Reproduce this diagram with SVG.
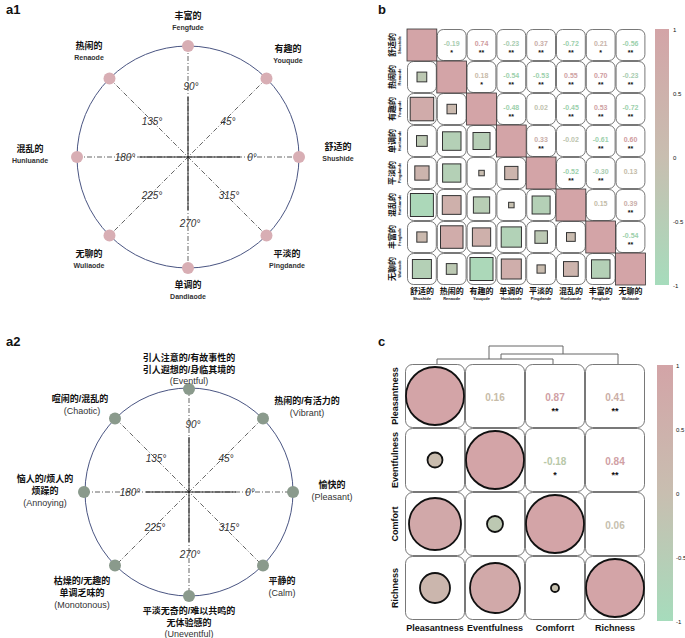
<svg xmlns="http://www.w3.org/2000/svg" width="685" height="638" viewBox="0 0 685 638" fill="#111">
<defs>
<style>
text{font-family:"Liberation Sans","Noto Sans CJK SC",sans-serif}
.pl{font-size:13px;font-weight:bold}
.cn{font-size:9px;font-weight:bold;text-anchor:middle}
.en{font-size:7px;font-weight:bold;text-anchor:middle;fill:#333}
.en2{font-size:9px;text-anchor:middle;fill:#333}
.ang{font-size:10px;font-style:italic;text-anchor:middle;fill:#333}
.ring{fill:none;stroke:#4a5582;stroke-width:1}
.dd{stroke:#222;stroke-width:0.7;stroke-dasharray:5 2 1 2;fill:none}
.sl{stroke:#222;stroke-width:1;fill:none}
.d1{fill:#d8aeb4}
.d2{fill:#8a9a8c}
.cell{fill:#fff;stroke:#555;stroke-width:0.8}
.diag{fill:#d3a4a7;stroke:#333;stroke-width:0.8}
.sq{stroke:#333;stroke-width:1}
.v{font-size:7px;font-weight:bold;text-anchor:middle}
.st{font-size:7px;font-weight:bold;text-anchor:middle}
.cb{font-size:6px}
.ylab{font-size:8px;font-weight:bold;text-anchor:middle}
.ysm{font-size:4px;font-weight:bold;text-anchor:middle}
.cv{font-size:10px;font-weight:bold;text-anchor:middle}
.cs{font-size:9px;font-weight:bold;text-anchor:middle}
.cl{font-size:9px;font-weight:bold;text-anchor:middle}
.ci{stroke:#111;stroke-width:1.8}
.den{stroke:#666;stroke-width:1;fill:none}
</style>
<linearGradient id="cbg" x1="0" y1="0" x2="0" y2="1">
<stop offset="0" stop-color="#d3a4a7"/><stop offset="0.5" stop-color="#c8beb0"/><stop offset="1" stop-color="#a6dcbc"/>
</linearGradient>
</defs>

<text class="pl" x="6" y="14">a1</text>
<text class="pl" x="378" y="14">b</text>
<text class="pl" x="6" y="346">a2</text>
<text class="pl" x="378" y="346">c</text>

<g id="a1">
<circle class="ring" cx="188" cy="157" r="111"/>
<path class="dd" d="M188 46V268M77 157H299M109.5 78.5L266.5 235.5M266.5 78.5L109.5 235.5"/>
<path class="sl" d="M188 97V157M140 157H240M188 157V210"/>
<g id="a1-nodes">
<circle class="d1" cx="188" cy="46" r="6"/>
<circle class="d1" cx="266.5" cy="78.5" r="6"/>
<circle class="d1" cx="299" cy="157" r="6"/>
<circle class="d1" cx="266.5" cy="235.5" r="6"/>
<circle class="d1" cx="188" cy="268" r="6"/>
<circle class="d1" cx="109.5" cy="235.5" r="6"/>
<circle class="d1" cx="77" cy="157" r="6"/>
<circle class="d1" cx="109.5" cy="78.5" r="6"/>
</g>
<text class="ang" x="191" y="90">90°</text>
<text class="ang" x="152" y="125">135°</text>
<text class="ang" x="228" y="125">45°</text>
<text class="ang" x="125" y="161">180°</text>
<text class="ang" x="252" y="161">0°</text>
<text class="ang" x="152" y="199">225°</text>
<text class="ang" x="229" y="199">315°</text>
<text class="ang" x="190" y="227">270°</text>
<text class="cn" x="188" y="19">丰富的</text><text class="en" x="188" y="30">Fengfude</text>
<text class="cn" x="89" y="49">热闹的</text><text class="en" x="89" y="60">Renaode</text>
<text class="cn" x="288" y="52">有趣的</text><text class="en" x="288" y="63">Youqude</text>
<text class="cn" x="30" y="152">混乱的</text><text class="en" x="30" y="163">Hunluande</text>
<text class="cn" x="338" y="150">舒适的</text><text class="en" x="338" y="161">Shushide</text>
<text class="cn" x="89" y="257">无聊的</text><text class="en" x="89" y="268">Wuliaode</text>
<text class="cn" x="287" y="257">平淡的</text><text class="en" x="287" y="268">Pingdande</text>
<text class="cn" x="188" y="288">单调的</text><text class="en" x="188" y="299">Dandiaode</text>
</g>

<g id="a2">
<circle class="ring" cx="189" cy="492" r="104"/>
<path class="dd" d="M189 388V596M85 492H293M115.5 418.5L262.5 565.5M262.5 418.5L115.5 565.5"/>
<path class="sl" d="M189 437V492M146 492H236M189 492V542"/>
<g id="a2-nodes">
<circle class="d2" cx="189" cy="389" r="6"/>
<circle class="d2" cx="263" cy="418.5" r="6"/>
<circle class="d2" cx="293" cy="492" r="6"/>
<circle class="d2" cx="263" cy="565.5" r="6"/>
<circle class="d2" cx="189" cy="596" r="6"/>
<circle class="d2" cx="115" cy="565.5" r="6"/>
<circle class="d2" cx="84" cy="492" r="6"/>
<circle class="d2" cx="115" cy="418.5" r="6"/>
</g>
<text class="ang" x="193" y="428">90°</text>
<text class="ang" x="156" y="462">135°</text>
<text class="ang" x="226" y="462">45°</text>
<text class="ang" x="130" y="496">180°</text>
<text class="ang" x="250" y="496">0°</text>
<text class="ang" x="155" y="531">225°</text>
<text class="ang" x="229" y="531">315°</text>
<text class="ang" x="190" y="558">270°</text>
<text class="cn" x="189" y="361">引人注意的/有故事性的</text>
<text class="cn" x="189" y="373">引人遐想的/身临其境的</text>
<text class="en2" x="189" y="384">(Eventful)</text>
<text class="cn" x="80" y="402">喧闹的/混乱的</text><text class="en2" x="82" y="414">(Chaotic)</text>
<text class="cn" x="307" y="404">热闹的/有活力的</text><text class="en2" x="307" y="416">(Vibrant)</text>
<text class="cn" x="45" y="482">恼人的/烦人的</text><text class="cn" x="45" y="494">烦躁的</text><text class="en2" x="45" y="506">(Annoying)</text>
<text class="cn" x="332" y="488">愉快的</text><text class="en2" x="332" y="500">(Pleasant)</text>
<text class="cn" x="82" y="584">枯燥的/无趣的</text><text class="cn" x="82" y="596">单调乏味的</text><text class="en2" x="82" y="608">(Monotonous)</text>
<text class="cn" x="282" y="584">平静的</text><text class="en2" x="282" y="596">(Calm)</text>
<text class="cn" x="189" y="614">平淡无奇的/难以共鸣的</text>
<text class="cn" x="189" y="626">无体验感的</text>
<text class="en2" x="189" y="637">(Uneventful)</text>
</g>

<g id="b">
<g id="b-cells">
<rect class="cell" x="437.3" y="29.5" width="28.8" height="31" rx="6"/><rect class="cell" x="467.1" y="29.5" width="28.8" height="31" rx="6"/><rect class="cell" x="496.9" y="29.5" width="28.8" height="31" rx="6"/><rect class="cell" x="526.7" y="29.5" width="28.8" height="31" rx="6"/><rect class="cell" x="556.5" y="29.5" width="28.8" height="31" rx="6"/><rect class="cell" x="586.3" y="29.5" width="28.8" height="31" rx="6"/><rect class="cell" x="616.1" y="29.5" width="28.8" height="31" rx="6"/>
<rect class="cell" x="407.5" y="61.5" width="28.8" height="31" rx="6"/><rect class="cell" x="467.1" y="61.5" width="28.8" height="31" rx="6"/><rect class="cell" x="496.9" y="61.5" width="28.8" height="31" rx="6"/><rect class="cell" x="526.7" y="61.5" width="28.8" height="31" rx="6"/><rect class="cell" x="556.5" y="61.5" width="28.8" height="31" rx="6"/><rect class="cell" x="586.3" y="61.5" width="28.8" height="31" rx="6"/><rect class="cell" x="616.1" y="61.5" width="28.8" height="31" rx="6"/>
<rect class="cell" x="407.5" y="93.5" width="28.8" height="31" rx="6"/><rect class="cell" x="437.3" y="93.5" width="28.8" height="31" rx="6"/><rect class="cell" x="496.9" y="93.5" width="28.8" height="31" rx="6"/><rect class="cell" x="526.7" y="93.5" width="28.8" height="31" rx="6"/><rect class="cell" x="556.5" y="93.5" width="28.8" height="31" rx="6"/><rect class="cell" x="586.3" y="93.5" width="28.8" height="31" rx="6"/><rect class="cell" x="616.1" y="93.5" width="28.8" height="31" rx="6"/>
<rect class="cell" x="407.5" y="125.5" width="28.8" height="31" rx="6"/><rect class="cell" x="437.3" y="125.5" width="28.8" height="31" rx="6"/><rect class="cell" x="467.1" y="125.5" width="28.8" height="31" rx="6"/><rect class="cell" x="526.7" y="125.5" width="28.8" height="31" rx="6"/><rect class="cell" x="556.5" y="125.5" width="28.8" height="31" rx="6"/><rect class="cell" x="586.3" y="125.5" width="28.8" height="31" rx="6"/><rect class="cell" x="616.1" y="125.5" width="28.8" height="31" rx="6"/>
<rect class="cell" x="407.5" y="157.5" width="28.8" height="31" rx="6"/><rect class="cell" x="437.3" y="157.5" width="28.8" height="31" rx="6"/><rect class="cell" x="467.1" y="157.5" width="28.8" height="31" rx="6"/><rect class="cell" x="496.9" y="157.5" width="28.8" height="31" rx="6"/><rect class="cell" x="556.5" y="157.5" width="28.8" height="31" rx="6"/><rect class="cell" x="586.3" y="157.5" width="28.8" height="31" rx="6"/><rect class="cell" x="616.1" y="157.5" width="28.8" height="31" rx="6"/>
<rect class="cell" x="407.5" y="189.5" width="28.8" height="31" rx="6"/><rect class="cell" x="437.3" y="189.5" width="28.8" height="31" rx="6"/><rect class="cell" x="467.1" y="189.5" width="28.8" height="31" rx="6"/><rect class="cell" x="496.9" y="189.5" width="28.8" height="31" rx="6"/><rect class="cell" x="526.7" y="189.5" width="28.8" height="31" rx="6"/><rect class="cell" x="586.3" y="189.5" width="28.8" height="31" rx="6"/><rect class="cell" x="616.1" y="189.5" width="28.8" height="31" rx="6"/>
<rect class="cell" x="407.5" y="221.5" width="28.8" height="31" rx="6"/><rect class="cell" x="437.3" y="221.5" width="28.8" height="31" rx="6"/><rect class="cell" x="467.1" y="221.5" width="28.8" height="31" rx="6"/><rect class="cell" x="496.9" y="221.5" width="28.8" height="31" rx="6"/><rect class="cell" x="526.7" y="221.5" width="28.8" height="31" rx="6"/><rect class="cell" x="556.5" y="221.5" width="28.8" height="31" rx="6"/><rect class="cell" x="616.1" y="221.5" width="28.8" height="31" rx="6"/>
<rect class="cell" x="407.5" y="253.5" width="28.8" height="31" rx="6"/><rect class="cell" x="437.3" y="253.5" width="28.8" height="31" rx="6"/><rect class="cell" x="467.1" y="253.5" width="28.8" height="31" rx="6"/><rect class="cell" x="496.9" y="253.5" width="28.8" height="31" rx="6"/><rect class="cell" x="526.7" y="253.5" width="28.8" height="31" rx="6"/><rect class="cell" x="556.5" y="253.5" width="28.8" height="31" rx="6"/><rect class="cell" x="586.3" y="253.5" width="28.8" height="31" rx="6"/>
<rect class="diag" x="407" y="29" width="29.8" height="32"/><rect class="diag" x="436.8" y="61" width="29.8" height="32"/><rect class="diag" x="466.6" y="93" width="29.8" height="32"/><rect class="diag" x="496.4" y="125" width="29.8" height="32"/><rect class="diag" x="526.2" y="157" width="29.8" height="32"/><rect class="diag" x="556" y="189" width="29.8" height="32"/><rect class="diag" x="585.8" y="221" width="29.8" height="32"/><rect class="diag" x="615.6" y="253" width="29.8" height="32"/>
</g>
<g id="b-squares" class="sq">
<rect x="417" y="72.1" width="9.75" height="9.75" fill="#bcc8b2"/>
<rect x="410.2" y="97.3" width="23.5" height="23.5" fill="#d0abaa"/><rect x="447" y="104.3" width="9.5" height="9.5" fill="#cab9ae"/>
<rect x="416.5" y="135.6" width="10.75" height="10.75" fill="#bcc9b3"/><rect x="442.5" y="131.8" width="18.5" height="18.5" fill="#b4d0b6"/><rect x="473" y="132.5" width="17" height="17" fill="#b6ceb6"/>
<rect x="414.8" y="165.9" width="14.25" height="14.25" fill="#ccb4ad"/><rect x="442.6" y="163.9" width="18.25" height="18.25" fill="#b4d0b6"/><rect x="478.8" y="170.3" width="5.5" height="5.5" fill="#c8bdb0"/><rect x="504.7" y="166.4" width="13.25" height="13.25" fill="#ccb5ad"/>
<rect x="410.4" y="193.5" width="23" height="23" fill="#acd8b9"/><rect x="442.3" y="195.6" width="18.75" height="18.75" fill="#ceb0ab"/><rect x="473.4" y="196.9" width="16.25" height="16.25" fill="#b8ceb5"/><rect x="508.6" y="202.3" width="5.5" height="5.5" fill="#c6c0b0"/><rect x="532.1" y="196" width="18" height="18" fill="#b4d0b6"/>
<rect x="416.8" y="231.9" width="10.25" height="10.25" fill="#cab9ae"/><rect x="440.5" y="225.8" width="22.5" height="22.5" fill="#d0acaa"/><rect x="472.4" y="227.9" width="18.25" height="18.25" fill="#ceb0ab"/><rect x="501.2" y="226.9" width="20.25" height="20.25" fill="#b2d2b7"/><rect x="534.9" y="230.8" width="12.5" height="12.5" fill="#bcc9b4"/><rect x="566.5" y="232.6" width="8.75" height="8.75" fill="#c9bbaf"/>
<rect x="412.4" y="259.5" width="19" height="19" fill="#b4d0b6"/><rect x="446.3" y="263.6" width="10.75" height="10.75" fill="#bcc9b3"/><rect x="470" y="257.5" width="23" height="23" fill="#acd8b9"/><rect x="501.3" y="259" width="20" height="20" fill="#cfaeab"/><rect x="537" y="264.9" width="8.25" height="8.25" fill="#c9bcaf"/><rect x="563.5" y="261.6" width="14.75" height="14.75" fill="#cdb4ad"/><rect x="591.5" y="259.8" width="18.5" height="18.5" fill="#b4d0b6"/>
</g>
<g id="b-values">
<text class="v" x="451.7" y="46" fill="#a8ccb0">-0.19</text><text class="st" x="451.7" y="55">*</text>
<text class="v" x="481.5" y="46" fill="#cf9ca0">0.74</text><text class="st" x="481.5" y="55">**</text>
<text class="v" x="511.3" y="46" fill="#a8ccb0">-0.23</text><text class="st" x="511.3" y="55">**</text>
<text class="v" x="541.1" y="46" fill="#c9aea8">0.37</text><text class="st" x="541.1" y="55">**</text>
<text class="v" x="570.9" y="46" fill="#9cd0ac">-0.72</text><text class="st" x="570.9" y="55">**</text>
<text class="v" x="600.7" y="46" fill="#c9b4aa">0.21</text><text class="st" x="600.7" y="55">*</text>
<text class="v" x="630.5" y="46" fill="#9cd0ac">-0.56</text><text class="st" x="630.5" y="55">**</text>
<text class="v" x="481.5" y="78" fill="#c8baa8">0.18</text><text class="st" x="481.5" y="87">*</text>
<text class="v" x="511.3" y="78" fill="#9cd0ac">-0.54</text><text class="st" x="511.3" y="87">**</text>
<text class="v" x="541.1" y="78" fill="#9cd0ac">-0.53</text><text class="st" x="541.1" y="87">**</text>
<text class="v" x="570.9" y="78" fill="#cfa2a4">0.55</text><text class="st" x="570.9" y="87">**</text>
<text class="v" x="600.7" y="78" fill="#cf9ca0">0.70</text><text class="st" x="600.7" y="87">**</text>
<text class="v" x="630.5" y="78" fill="#a8ccb0">-0.23</text><text class="st" x="630.5" y="87">**</text>
<text class="v" x="511.3" y="110" fill="#9cd0ac">-0.48</text><text class="st" x="511.3" y="119">**</text>
<text class="v" x="541.1" y="110" fill="#c0c2ae">0.02</text>
<text class="v" x="570.9" y="110" fill="#9cd0ac">-0.45</text><text class="st" x="570.9" y="119">**</text>
<text class="v" x="600.7" y="110" fill="#cfa2a4">0.53</text><text class="st" x="600.7" y="119">**</text>
<text class="v" x="630.5" y="110" fill="#9cd0ac">-0.72</text><text class="st" x="630.5" y="119">**</text>
<text class="v" x="541.1" y="142" fill="#c9aea8">0.33</text><text class="st" x="541.1" y="151">**</text>
<text class="v" x="570.9" y="142" fill="#bcc4ae">-0.02</text>
<text class="v" x="600.7" y="142" fill="#9cd0ac">-0.61</text><text class="st" x="600.7" y="151">**</text>
<text class="v" x="630.5" y="142" fill="#cf9ca0">0.60</text><text class="st" x="630.5" y="151">**</text>
<text class="v" x="570.9" y="174" fill="#9cd0ac">-0.52</text><text class="st" x="570.9" y="183">**</text>
<text class="v" x="600.7" y="174" fill="#a8ccb0">-0.30</text><text class="st" x="600.7" y="183">**</text>
<text class="v" x="630.5" y="174" fill="#c4bca8">0.13</text>
<text class="v" x="600.7" y="206" fill="#c4bca8">0.15</text>
<text class="v" x="630.5" y="206" fill="#c9aea8">0.39</text><text class="st" x="630.5" y="215">**</text>
<text class="v" x="630.5" y="238" fill="#9cd0ac">-0.54</text><text class="st" x="630.5" y="247">**</text>
</g>
<g id="b-labels">
<text class="ylab" transform="translate(395,45) rotate(-90)">舒适的</text><text class="ysm" transform="translate(401,45) rotate(-90)">Shushide</text>
<text class="ylab" transform="translate(395,77) rotate(-90)">热闹的</text><text class="ysm" transform="translate(401,77) rotate(-90)">Renaode</text>
<text class="ylab" transform="translate(395,109) rotate(-90)">有趣的</text><text class="ysm" transform="translate(401,109) rotate(-90)">Youqude</text>
<text class="ylab" transform="translate(395,141) rotate(-90)">单调的</text><text class="ysm" transform="translate(401,141) rotate(-90)">Hunluande</text>
<text class="ylab" transform="translate(395,173) rotate(-90)">平淡的</text><text class="ysm" transform="translate(401,173) rotate(-90)">Pingdande</text>
<text class="ylab" transform="translate(395,205) rotate(-90)">混乱的</text><text class="ysm" transform="translate(401,205) rotate(-90)">Hunluande</text>
<text class="ylab" transform="translate(395,237) rotate(-90)">丰富的</text><text class="ysm" transform="translate(401,237) rotate(-90)">Fengfude</text>
<text class="ylab" transform="translate(395,269) rotate(-90)">无聊的</text><text class="ysm" transform="translate(401,269) rotate(-90)">Wuliaode</text>
<text class="ylab" x="421.9" y="294">舒适的</text><text class="ysm" x="421.9" y="300">Shushide</text>
<text class="ylab" x="451.7" y="294">热闹的</text><text class="ysm" x="451.7" y="300">Renaode</text>
<text class="ylab" x="481.5" y="294">有趣的</text><text class="ysm" x="481.5" y="300">Youqude</text>
<text class="ylab" x="511.3" y="294">单调的</text><text class="ysm" x="511.3" y="300">Hunluande</text>
<text class="ylab" x="541.1" y="294">平淡的</text><text class="ysm" x="541.1" y="300">Pingdande</text>
<text class="ylab" x="570.9" y="294">混乱的</text><text class="ysm" x="570.9" y="300">Hunluande</text>
<text class="ylab" x="600.7" y="294">丰富的</text><text class="ysm" x="600.7" y="300">Fengfude</text>
<text class="ylab" x="630.5" y="294">无聊的</text><text class="ysm" x="630.5" y="300">Wuliaode</text>
</g>
<g id="b-colorbar">
<rect x="655" y="29" width="14" height="256" fill="url(#cbg)"/>
<text class="cb" x="673" y="32">1</text><text class="cb" x="673" y="96">0.5</text><text class="cb" x="673" y="160">0</text><text class="cb" x="673" y="224">-0.5</text><text class="cb" x="673" y="288">-1</text>
</g>
</g>

<g id="c">
<g id="c-dendrogram" class="den">
<path d="M489 359V346H563V354"/>
<path d="M501 359V354H618V364"/>
<path d="M437 364V359H553V364"/>
</g>
<g id="c-cells">
<rect class="cell" x="405.5" y="364.5" width="59" height="63" rx="7"/><rect class="cell" x="465.5" y="364.5" width="59" height="63" rx="7"/><rect class="cell" x="525.5" y="364.5" width="59" height="63" rx="7"/><rect class="cell" x="585.5" y="364.5" width="59" height="63" rx="7"/>
<rect class="cell" x="405.5" y="428.5" width="59" height="63" rx="7"/><rect class="cell" x="465.5" y="428.5" width="59" height="63" rx="7"/><rect class="cell" x="525.5" y="428.5" width="59" height="63" rx="7"/><rect class="cell" x="585.5" y="428.5" width="59" height="63" rx="7"/>
<rect class="cell" x="405.5" y="492.5" width="59" height="63" rx="7"/><rect class="cell" x="465.5" y="492.5" width="59" height="63" rx="7"/><rect class="cell" x="525.5" y="492.5" width="59" height="63" rx="7"/><rect class="cell" x="585.5" y="492.5" width="59" height="63" rx="7"/>
<rect class="cell" x="405.5" y="556.5" width="59" height="63" rx="7"/><rect class="cell" x="465.5" y="556.5" width="59" height="63" rx="7"/><rect class="cell" x="525.5" y="556.5" width="59" height="63" rx="7"/><rect class="cell" x="585.5" y="556.5" width="59" height="63" rx="7"/>
</g>
<g id="c-circles" class="ci">
<circle cx="435" cy="396" r="29" fill="#d3a4a7"/>
<circle cx="495" cy="460" r="29" fill="#d3a4a7"/>
<circle cx="555" cy="524" r="29" fill="#d3a4a7"/>
<circle cx="615" cy="588" r="29" fill="#d3a4a7"/>
<circle cx="435" cy="460" r="7.5" fill="#c9bcae"/>
<circle cx="435" cy="524" r="26" fill="#d1a8a9"/>
<circle cx="495" cy="524" r="8" fill="#bcc8b2"/>
<circle cx="435" cy="588" r="15" fill="#cbb6ad"/>
<circle cx="495" cy="588" r="25" fill="#d1a9a9"/>
<circle cx="555" cy="588" r="4" fill="#c6c0ae"/>
</g>
<g id="c-values">
<text class="cv" x="495" y="401" fill="#c8bca8">0.16</text>
<text class="cv" x="555" y="401" fill="#d0a0a4">0.87</text><text class="cs" x="555" y="414">**</text>
<text class="cv" x="615" y="401" fill="#cbaea6">0.41</text><text class="cs" x="615" y="414">**</text>
<text class="cv" x="555" y="465" fill="#b8c8a8">-0.18</text><text class="cs" x="555" y="478">*</text>
<text class="cv" x="615" y="465" fill="#d0a0a4">0.84</text><text class="cs" x="615" y="478">**</text>
<text class="cv" x="615" y="529" fill="#c6c0ae">0.06</text>
</g>
<g id="c-labels">
<text class="cl" transform="translate(398,396) rotate(-90)">Pleasantness</text>
<text class="cl" transform="translate(398,460) rotate(-90)">Eventfulness</text>
<text class="cl" transform="translate(398,524) rotate(-90)">Comfort</text>
<text class="cl" transform="translate(398,588) rotate(-90)">Richness</text>
<text class="cl" x="435" y="631">Pleasantness</text>
<text class="cl" x="495" y="631">Eventfulness</text>
<text class="cl" x="555" y="631">Comforrt</text>
<text class="cl" x="615" y="631">Richness</text>
</g>
<g id="c-colorbar">
<rect x="657" y="365" width="16" height="256" fill="url(#cbg)"/>
<text class="cb" x="676" y="368">1</text><text class="cb" x="676" y="432">0.5</text><text class="cb" x="676" y="496">0</text><text class="cb" x="676" y="560">-0.5</text><text class="cb" x="676" y="624">-1</text>
</g>
</g>
</svg>
